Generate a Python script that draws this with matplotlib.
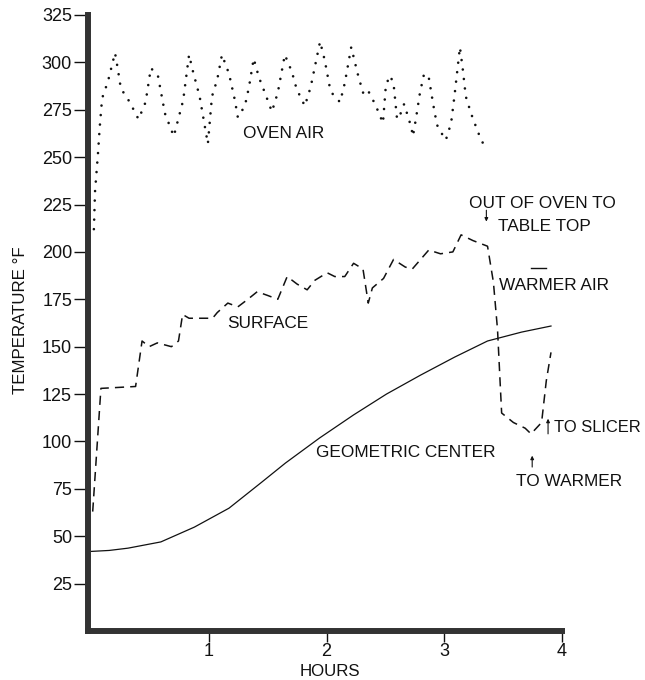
import matplotlib
matplotlib.use("Agg")
import matplotlib.pyplot as plt

plt.rcParams["font.family"] = ["Liberation Sans", "DejaVu Sans"]

# oven air temperature (dotted trace)
oven_hours = [0.02, 0.03, 0.055, 0.07, 0.09, 0.14, 0.20,
              0.225, 0.25, 0.285, 0.325, 0.40,
              0.46, 0.505,
              0.565, 0.625, 0.70,
              0.78, 0.83,
              0.86, 0.92, 0.99,
              1.025, 1.07, 1.11,
              1.17, 1.22, 1.245,
              1.305, 1.34, 1.38,
              1.425, 1.475, 1.535,
              1.585, 1.645,
              1.705, 1.745, 1.815,
              1.865, 1.945,
              1.985, 2.03, 2.055, 2.115,
              2.155, 2.21,
              2.265, 2.31, 2.345, 2.38, 2.42, 2.48,
              2.505, 2.54,
              2.57, 2.60,
              2.63, 2.66,
              2.675, 2.72, 2.735,
              2.76, 2.795, 2.83,
              2.87, 2.91, 2.94, 2.975, 3.015,
              3.06, 3.09, 3.135,
              3.16, 3.185, 3.23, 3.29, 3.355]
oven_temp = [212, 232, 252, 266, 281, 290, 305,
             296, 286, 283, 279, 270,
             279, 297,
             293, 273, 261,
             280, 304,
             296, 282, 257,
             282, 291, 304,
             294, 280, 271,
             277, 287, 302,
             292, 284, 274,
             284, 304,
             295, 286, 277,
             287, 311,
             301, 286, 283, 279,
             289, 308,
             294, 284, 286, 282, 277, 268,
             288, 293,
             289, 270,
             273, 278,
             275, 266, 261,
             270, 284, 294,
             292, 277, 267, 263, 259,
             268, 283, 308,
             296, 282, 273, 263, 254]

# surface temperature (dashed trace)
surface_hours = [0.01, 0.08, 0.375, 0.43, 0.49, 0.56, 0.68, 0.74, 0.775, 0.83,
                 1.03, 1.07, 1.16, 1.245, 1.33, 1.41, 1.50, 1.585, 1.665, 1.75,
                 1.835, 1.90, 2.005, 2.07, 2.155, 2.23, 2.31, 2.355, 2.39, 2.485,
                 2.57, 2.67, 2.73, 2.87, 2.97, 3.075, 3.145, 3.245, 3.37, 3.42,
                 3.455, 3.49, 3.59, 3.69, 3.74, 3.83, 3.87, 3.91]
surface_temp = [63, 128, 129, 153, 150, 152, 150, 153, 167, 165,
                165, 168, 173, 171, 175, 179, 177, 175, 187, 183,
                180, 185, 189, 187, 187, 194, 191, 173, 181, 186,
                196, 192, 191, 201, 199, 200, 209, 206, 203, 184,
                159, 115, 110, 107, 104, 110, 132, 147]

# geometric center temperature (solid trace)
center_hours = [0.0, 0.15, 0.31, 0.59, 0.875, 1.17, 1.45, 1.65, 1.94, 2.23,
                2.51, 2.80, 3.09, 3.37, 3.66, 3.91]
center_temp = [42, 42.5, 43.7, 47, 54.8, 64.8, 78.6, 88.6, 101.8, 114,
               125, 135, 144.5, 153, 157.7, 160.9]

y_ticks = list(range(25, 326, 25))
x_ticks = [1, 2, 3, 4]

fig = plt.figure(figsize=(6.45, 6.8), dpi=100)
ax = fig.add_axes([88 / 645, 49 / 680, 557 / 645, 631 / 680])
ax.set_xlim(-0.03, 4.71)
ax.set_ylim(0, 332.9)

ink = "#111111"
axis_col = "#333333"

ax.plot(oven_hours, oven_temp, color=ink, lw=1.9,
        linestyle=(0, (0.01, 3.6)), dash_capstyle="round")
ax.plot(surface_hours, surface_temp, color=ink, lw=1.1,
        linestyle=(0, (6, 4)))
ax.plot(center_hours, center_temp, color=ink, lw=0.9)

# heavy hand-drawn looking axes
for side in ("top", "right"):
    ax.spines[side].set_visible(False)
for side in ("left", "bottom"):
    ax.spines[side].set_linewidth(4.3)
    ax.spines[side].set_color(axis_col)
    ax.spines[side].set_capstyle("projecting")
ax.spines["left"].set_bounds(0, 325)
ax.spines["bottom"].set_bounds(-0.03, 4)

ax.set_yticks(y_ticks)
ax.set_xticks(x_ticks)
ax.tick_params(axis="y", length=10, width=1.0, pad=1.5, labelsize=13,
               color=ink, labelcolor=ink)
ax.tick_params(axis="x", length=8, width=1.0, pad=1, labelsize=13,
               color=ink, labelcolor=ink)

txt = dict(fontsize=12.4, color=ink, ha="left", va="baseline")
ax.text(1.285, 260, "OVEN AIR", **txt)
ax.text(1.153, 160, "SURFACE", **txt)
ax.text(1.91, 92, "GEOMETRIC CENTER", **txt)
ax.text(3.21, 223, "OUT OF OVEN TO", **txt)
ax.text(3.46, 211, "TABLE TOP", **txt)
ax.text(3.47, 180, "WARMER AIR", **txt)
ax.text(3.935, 105, "TO SLICER", **dict(txt, fontsize=11.9))
ax.text(3.61, 76.5, "TO WARMER", **txt)

# short bar over the warmer air label
ax.plot([3.74, 3.87], [191.5, 191.5], color=ink, lw=1.0)

arrow = dict(arrowstyle="-|>", lw=0.8, color=ink, mutation_scale=5,
             shrinkA=0, shrinkB=0)
ax.annotate("", xy=(3.36, 216), xytext=(3.36, 222), arrowprops=arrow)
ax.annotate("", xy=(3.75, 92.5), xytext=(3.75, 86.5), arrowprops=arrow)
ax.annotate("", xy=(3.885, 112), xytext=(3.885, 104), arrowprops=arrow)

fig.text(21 / 645, 1 - 320 / 680, "TEMPERATURE °F", rotation=90,
         ha="center", va="center", fontsize=12.2, color=ink)
fig.text(330 / 645, 1 - 671 / 680, "HOURS", ha="center", va="center",
         fontsize=12.2, color=ink)

fig.savefig("out.png", dpi=100, facecolor="white")
